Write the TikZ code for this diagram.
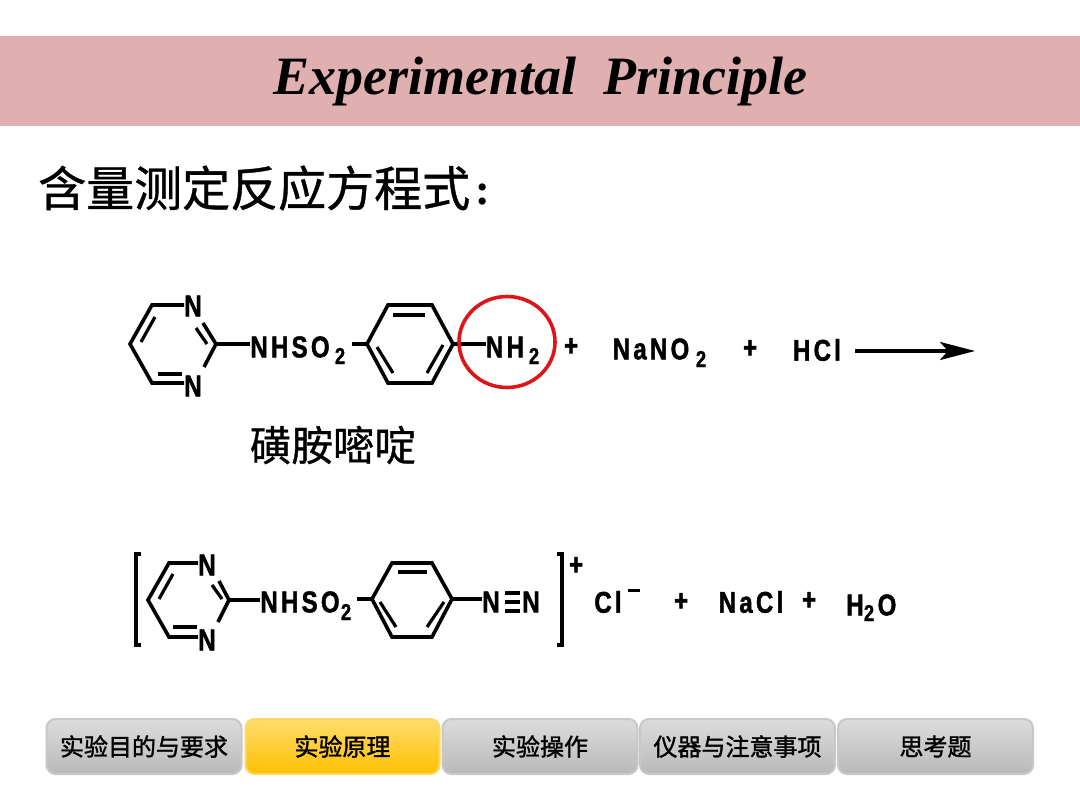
\documentclass[tikz,border=0pt]{standalone}
\usepackage{fontspec}
\setmainfont{Liberation Serif}
\newfontfamily\cjk[FakeBold=0.8]{Noto Sans CJK SC}
\newfontfamily\cjknav[FakeBold=1.4]{Noto Sans CJK SC}
\newfontfamily\chemb[LetterSpace=11,FakeStretch=0.8,FakeBold=1.5]{Liberation Sans}
\usetikzlibrary{shapes.geometric,arrows.meta}
\definecolor{band}{HTML}{E0B0B0}
\definecolor{ringred}{HTML}{DD1518}
\definecolor{graytop}{HTML}{DCDCDC}
\definecolor{graybot}{HTML}{B9B9B9}
\definecolor{goldtop}{HTML}{FFDD6E}
\definecolor{goldbot}{HTML}{FFC000}
\definecolor{goldedge}{HTML}{FFD860}
\definecolor{grayedge}{HTML}{C8C8C8}
\tikzset{
  bond/.style={line width=3.6pt,line cap=butt,line join=miter,black},
  ibond/.style={line width=3.2pt,black},
  atom/.style={inner sep=0pt,font=\fontsize{30}{30}\selectfont\chemb\bfseries,anchor=center},
  sub/.style={inner sep=0pt,font=\fontsize{23}{23}\selectfont\chemb\bfseries,anchor=center},
  navbtn/.style={rounded corners=9pt,draw=#1,line width=2pt,minimum height=55pt,anchor=center,
     inner sep=0pt,font=\fontsize{24}{24}\selectfont\cjknav,text=black},
  graybtn/.style={navbtn=grayedge,minimum width=195pt,top color=graytop,bottom color=graybot},
  goldbtn/.style={navbtn=goldedge,minimum width=194pt,top color=goldtop,bottom color=goldbot}
}
\begin{document}
\begin{tikzpicture}[x=1pt,y=-1pt]
\useasboundingbox (0,0) rectangle (1080,810);
\fill[white] (0,0) rectangle (1080,810);
\fill[band] (0,36) rectangle (1080,126);
\node[inner sep=0pt] (title) at (540,82) {\fontsize{54}{54}\selectfont\bfseries\itshape Experimental\hspace{0.5em}Principle};
\node[inner sep=0pt,anchor=west] (head) at (38,188) {\fontsize{48}{48}\selectfont\cjk 含量测定反应方程式};
\node[inner sep=0pt] (colon) at (483,195) {\fontsize{44}{44}\selectfont\bfseries :};

% --- first molecule
\coordinate (a1) at (152,305); \coordinate (a2) at (130,344); \coordinate (a3) at (152,383);
\coordinate (a4) at (216,344);
\node[atom] (n1) at (193,306) {N};
\node[atom] (n2) at (193,386) {N};
\draw[bond] (n1.west |- a1) -- (a1) -- (a2) -- (a3) -- (n2.west |- a3);
\draw[ibond] (155,317) -- (141,342);
\draw[ibond] (158,374) -- (182,374);
\draw[bond] (203,323) -- (a4) -- (204,367);
\draw[ibond] (196,328) -- (207,344);
\node[atom] (nh1) at (290,347) {NHSO};
\node[sub] (nh1s) at (340,356) {2};
\draw[bond] (a4) -- (nh1.west |- a4);
\coordinate (b1) at (367,344); \coordinate (b2) at (388,305); \coordinate (b3) at (432,305);
\coordinate (b4) at (453,344); \coordinate (b5) at (432,383); \coordinate (b6) at (388,383);
\draw[bond] (b1) -- (b2) -- (b3) -- (b4) -- (b5) -- (b6) -- cycle;
\draw[ibond] (393,315) -- (425,315);
\draw[ibond] (377,347) -- (393,373);
\draw[ibond] (443,345) -- (427,373);
\draw[bond] (352,344) -- (b1);
\node[atom] (nh2) at (505,347) {NH};
\node[sub] (nh2s) at (534,356) {2};
\draw[bond] (b4) -- (nh2.west |- b4);
\node[draw=ringred,line width=3.6pt,ellipse,minimum width=96pt,minimum height=91pt,inner sep=0pt] (ring) at (507,342) {};
\node[atom] (p1) at (571,347) {+};
\node[atom] (nano) at (651,349) {NaNO};
\node[sub] (nanos) at (701,359) {2};
\node[atom] (p2) at (750,349) {+};
\node[atom] (hcl) at (817,350) {HCl};
\coordinate (arrowend) at (975,351);
\coordinate (arrowstart) at (855,351);
\draw[line width=3.4pt,-{Stealth[length=35pt,width=18pt,inset=8pt]}] (arrowstart) -- (arrowend);
\node[inner sep=0pt] (drug) at (333,445) {\fontsize{41.5}{41.5}\selectfont\cjk 磺胺嘧啶};

% --- second molecule
\draw[bond,line width=4pt] (141,554) -- (136,554) -- (136,645) -- (141,645);
\coordinate (c1) at (169,563); \coordinate (c2) at (148,600); \coordinate (c3) at (169,637);
\coordinate (c4) at (229,600);
\node[atom] (n3) at (207,565) {N};
\node[atom] (n4) at (207,640) {N};
\draw[bond] (n3.west |- c1) -- (c1) -- (c2) -- (c3) -- (n4.west |- c3);
\draw[ibond] (173,574) -- (159,599);
\draw[ibond] (173,627) -- (197,627);
\draw[bond] (219,581) -- (c4) -- (218,622);
\draw[ibond] (212,585) -- (222,599);
\node[atom] (nh3) at (300,602) {NHSO};
\node[sub] (nh3s) at (346,612) {2};
\draw[bond] (c4) -- (nh3.west |- c4);
\coordinate (d1) at (372,599); \coordinate (d2) at (392,563); \coordinate (d3) at (432,563);
\coordinate (d4) at (452,599); \coordinate (d5) at (432,637); \coordinate (d6) at (392,637);
\draw[bond] (d1) -- (d2) -- (d3) -- (d4) -- (d5) -- (d6) -- cycle;
\draw[ibond] (398,572) -- (427,572);
\draw[ibond] (380,602) -- (396,627);
\draw[ibond] (444,602) -- (427,627);
\draw[bond] (357,599) -- (d1);
\node[atom] (n5) at (491,602) {N};
\node[atom] (n6) at (531,602) {N};
\draw[bond] (d4) -- (n5.west |- d4);
\draw[ibond] (505,593) -- (520,593) (505,602) -- (520,602) (505,611) -- (520,611);
\draw[bond,line width=4pt] (557,554) -- (562,554) -- (562,645) -- (557,645);
\node[atom] (p3) at (576,566) {+};
\node[atom] (cl) at (608,602) {Cl};
\draw[line width=3pt] (628,590) -- (640,590);
\node[atom] (p4) at (681,602) {+};
\node[atom] (nacl) at (751,602) {NaCl};
\node[atom] (p5) at (809,601) {+};
\node[atom] (h) at (855,605) {H};
\node[sub] (hs) at (869,613) {2};
\node[atom] (o) at (887,605) {O};

% --- navigation
\node[graybtn] (nav1) at (144,746.5) {实验目的与要求};
\node[goldbtn] (nav2) at (342.5,746.5) {实验原理};
\node[graybtn] (nav3) at (540,746.5) {实验操作};
\node[graybtn] (nav4) at (737.5,746.5) {仪器与注意事项};
\node[graybtn] (nav5) at (935.5,746.5) {思考题};
\end{tikzpicture}
\end{document}
